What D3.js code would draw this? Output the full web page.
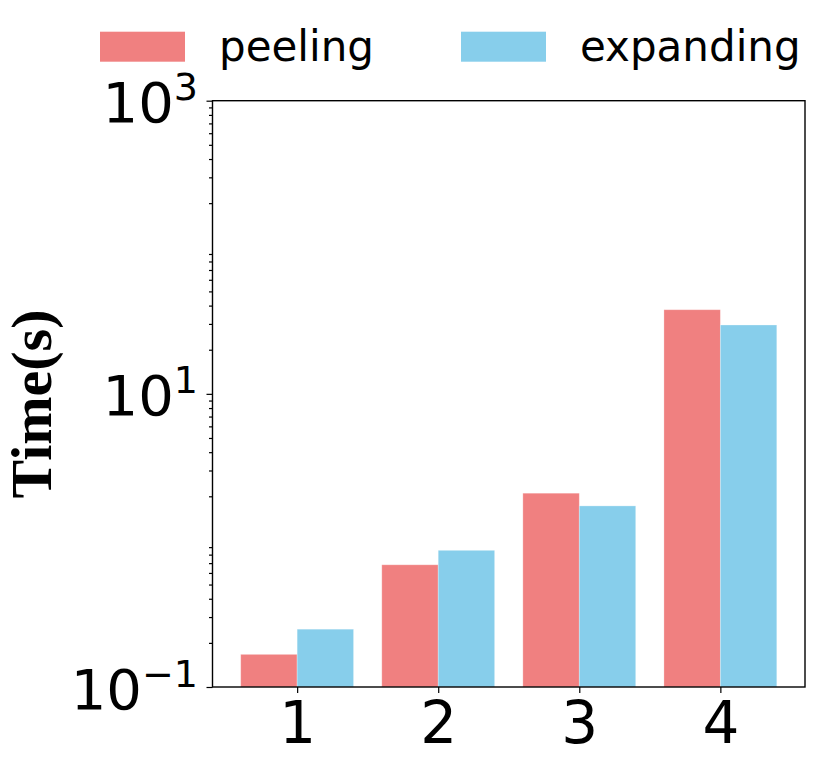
<!DOCTYPE html>
<html>
<head>
<meta charset="utf-8">
<script src="https://cdn.jsdelivr.net/npm/d3@7"></script>
<style>
  html, body { margin: 0; padding: 0; background: #fff; }
  svg { display: block; }
</style>
</head>
<body>
<svg id="chart" width="830" height="767"></svg>
<script>
// ---- data ----
const categories = ["1", "2", "3", "4"];
const peeling = [0.167, 0.682, 2.10, 37.5];
const expanding = [0.248, 0.856, 1.72, 29.5];
const seriesNames = ["peeling", "expanding"];
const seriesColors = ["#F08080", "#87CEEB"];
const majorTicks = [0.1, 10, 1000];
const majorExponents = ["\u22121", "1", "3"];

(function () {
// ---- layout ----
const svg = d3.select("#chart");
const pLeft = 212.5, pRight = 805, pTop = 100.7, pBottom = 687;

const x = d3.scaleLinear().domain([-0.6, categories.length - 0.4]).range([pLeft, pRight]);
const y = d3.scaleLog().domain([0.1, 1000]).range([pBottom, pTop]);
const barW = x(0.4) - x(0);

// bars
const series = [peeling, expanding];
series.forEach((vals, si) => {
  svg.append("g").selectAll("rect")
    .data(vals)
    .join("rect")
    .attr("x", (d, i) => si === 0 ? x(i - 0.4) : x(i))
    .attr("y", d => y(d))
    .attr("width", barW)
    .attr("height", d => y(0.1) - y(d))
    .attr("fill", seriesColors[si])
    .attr("stroke", "#ffffff")
    .attr("stroke-opacity", 0.35)
    .attr("stroke-width", 0.8);
});

// minor ticks (2..9 in each decade)
const minor = [];
[0.1, 1, 10, 100].forEach(dec => { for (let k = 2; k <= 9; k++) minor.push(dec * k); });

const yMinor = d3.axisLeft(y).tickValues(minor).tickSize(3.5).tickFormat("");
const yMajor = d3.axisLeft(y).tickValues(majorTicks).tickSize(6).tickFormat("");
const gMin = svg.append("g").attr("transform", `translate(${pLeft},0)`).call(yMinor);
const gMaj = svg.append("g").attr("transform", `translate(${pLeft},0)`).call(yMajor);
[gMin, gMaj].forEach(g => {
  g.select(".domain").remove();
  g.selectAll("line").attr("stroke", "#000").attr("stroke-width", 1.2);
});

// x axis ticks
const xAxis = d3.axisBottom(x).tickValues(d3.range(categories.length)).tickSize(6)
  .tickFormat((d, i) => categories[i]);
const gx = svg.append("g").attr("transform", `translate(0,${pBottom})`).call(xAxis);
gx.select(".domain").remove();
gx.selectAll("line").attr("stroke", "#000").attr("stroke-width", 1.2);
gx.selectAll("text")
  .attr("font-family", "DejaVu Sans")
  .attr("font-size", 58)
  .attr("fill", "#000")
  .attr("dy", null)
  .attr("y", 56);

// frame
svg.append("rect")
  .attr("x", pLeft).attr("y", pTop)
  .attr("width", pRight - pLeft).attr("height", pBottom - pTop)
  .attr("fill", "none").attr("stroke", "#000").attr("stroke-width", 1.4);

// y tick labels with superscripts
majorTicks.forEach((v, i) => {
  const t = svg.append("text")
    .attr("x", 198)
    .attr("y", y(v) + 21.5)
    .attr("text-anchor", "end")
    .attr("font-family", "DejaVu Sans")
    .attr("font-size", 56)
    .attr("fill", "#000");
  t.append("tspan").text("10");
  t.append("tspan").attr("font-size", 38).attr("dy", -22).text(majorExponents[i]);
});

// y axis label
svg.append("text")
  .attr("transform", "translate(51,404) rotate(-90)")
  .attr("text-anchor", "middle")
  .attr("font-family", "Liberation Serif")
  .attr("font-weight", "bold")
  .attr("font-size", 58)
  .attr("fill", "#000")
  .text("Time(s)");

// legend
const legendX = [100, 461];
seriesNames.forEach((name, i) => {
  svg.append("rect")
    .attr("x", legendX[i]).attr("y", 31.7)
    .attr("width", 85).attr("height", 30)
    .attr("fill", seriesColors[i]);
  svg.append("text")
    .attr("x", legendX[i] + 119).attr("y", 61)
    .attr("font-family", "DejaVu Sans")
    .attr("font-size", 42)
    .attr("fill", "#000")
    .text(name);
});
})();
</script>
</body>
</html>
